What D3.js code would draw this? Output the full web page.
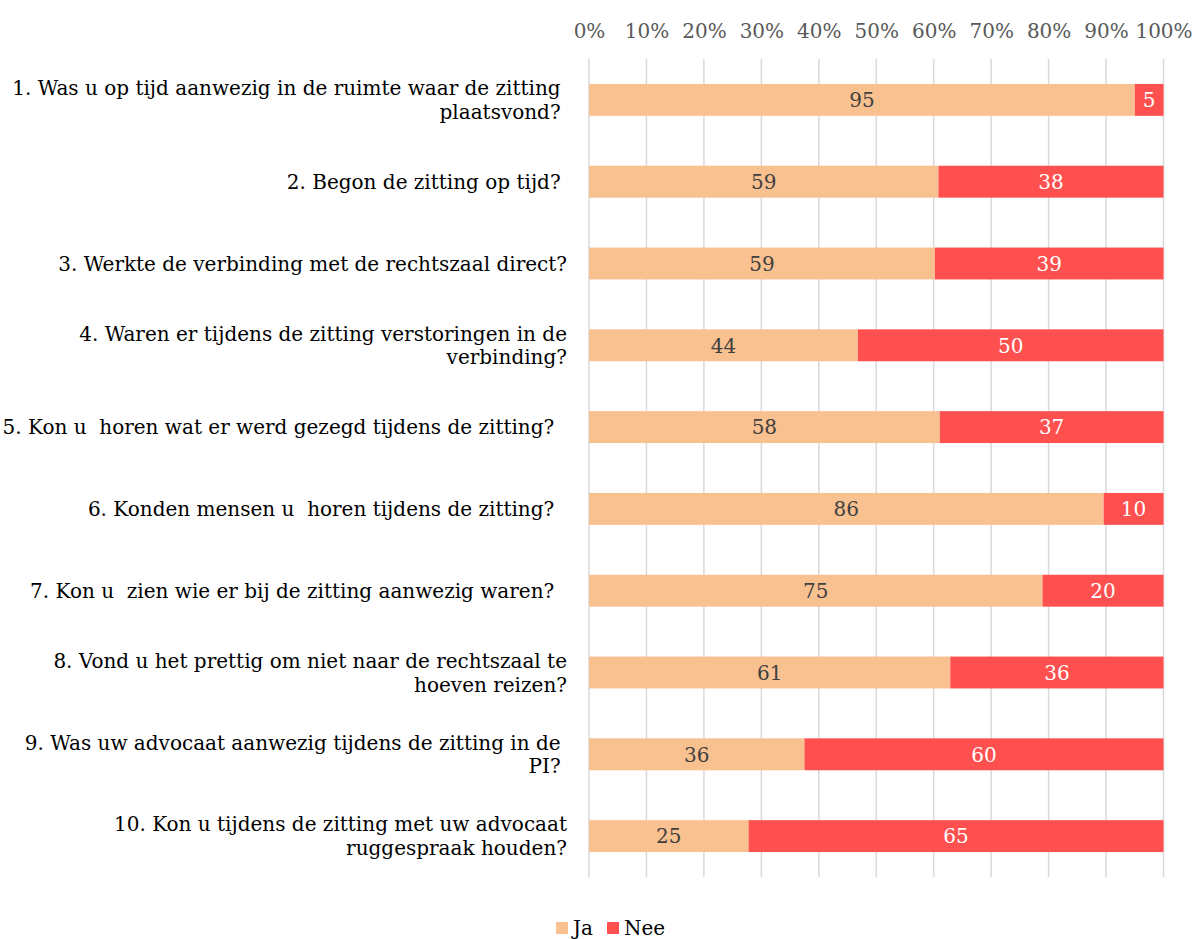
<!DOCTYPE html>
<html><head><meta charset="utf-8">
<script src="https://cdn.jsdelivr.net/npm/d3@7"></script>
<style>
body{margin:0;background:#fff}
text{font-family:"DejaVu Serif",serif;white-space:pre}
</style></head>
<body><svg id="c" width="1194" height="939"></svg>
<script>
const categories = [
  ["1. Was u op tijd aanwezig in de ruimte waar de zitting ", "plaatsvond? "],
  ["2. Begon de zitting op tijd? "],
  ["3. Werkte de verbinding met de rechtszaal direct?"],
  ["4. Waren er tijdens de zitting verstoringen in de", "verbinding?"],
  ["5. Kon u  horen wat er werd gezegd tijdens de zitting?  "],
  ["6. Konden mensen u  horen tijdens de zitting?  "],
  ["7. Kon u  zien wie er bij de zitting aanwezig waren?  "],
  ["8. Vond u het prettig om niet naar de rechtszaal te", "hoeven reizen?"],
  ["9. Was uw advocaat aanwezig tijdens de zitting in de ", "PI? "],
  ["10. Kon u tijdens de zitting met uw advocaat", "ruggespraak houden?"]
];
const jaValues  = [95, 59, 59, 44, 58, 86, 75, 61, 36, 25];
const neeValues = [5, 38, 39, 50, 37, 10, 20, 36, 60, 65];
const seriesNames = ["Ja", "Nee"];
const seriesColors = ["#F9C190", "#FF5050"];
const labelColors = ["#404040", "#FFFFFF"];
const tickValues = [0, 0.1, 0.2, 0.3, 0.4, 0.5, 0.6, 0.7, 0.8, 0.9, 1];
const tickLabels = ["0%", "10%", "20%", "30%", "40%", "50%", "60%", "70%", "80%", "90%", "100%"];

const svg = d3.select("#c");
const plotLeft = 589, plotRight = 1163.5, plotTop = 59, plotBottom = 877;
const fs = 20;

const x = d3.scaleLinear().domain([0, 1]).range([plotLeft, plotRight]);
const y = d3.scaleBand().domain(d3.range(categories.length)).range([plotTop, plotBottom])
  .paddingInner(0.61).paddingOuter(0.305);

// gridlines
svg.append("g").selectAll("line").data(tickValues).join("line")
  .attr("x1", d => x(d)).attr("x2", d => x(d))
  .attr("y1", plotTop).attr("y2", plotBottom)
  .attr("stroke", "#D9D9D9").attr("stroke-width", 1.5);

// top axis
const axis = svg.append("g").attr("transform", "translate(0,38)")
  .call(d3.axisTop(x).tickValues(tickValues).tickFormat((d, i) => tickLabels[i]).tickSize(0).tickPadding(0));
axis.select(".domain").remove();
axis.selectAll("text").attr("font-family", "DejaVu Serif").attr("font-size", fs).attr("fill", "#595959");

// stacked data
const rows = categories.map((c, i) => {
  const total = jaValues[i] + neeValues[i];
  const vals = [jaValues[i], neeValues[i]];
  let acc = 0;
  return vals.map((v, s) => {
    const seg = { i, s, v, x0: acc / total, x1: (acc + v) / total };
    acc += v;
    return seg;
  });
}).flat();

svg.append("g").selectAll("rect").data(rows).join("rect")
  .attr("x", d => x(d.x0)).attr("width", d => x(d.x1) - x(d.x0))
  .attr("y", d => y(d.i)).attr("height", y.bandwidth())
  .attr("fill", d => seriesColors[d.s]);

svg.append("g").selectAll("text").data(rows).join("text")
  .attr("x", d => (x(d.x0) + x(d.x1)) / 2)
  .attr("y", d => y(d.i) + y.bandwidth() / 2)
  .attr("dy", "0.36em").attr("text-anchor", "middle")
  .attr("font-size", fs).attr("fill", d => labelColors[d.s])
  .text(d => d.v);

// category labels
const cat = svg.append("g").selectAll("text").data(categories).join("text")
  .attr("text-anchor", "end").attr("font-size", fs).attr("fill", "#000")
  .attr("transform", (d, i) => `translate(567,${y(i) + y.bandwidth() / 2})`);
cat.selectAll("tspan").data(d => d.map((t, k) => ({ t, k, n: d.length }))).join("tspan")
  .attr("x", 0)
  .attr("y", d => (d.k - (d.n - 1) / 2) * 24)
  .attr("dy", "0.36em")
  .text(d => d.t);

// legend
const legendX = [556, 607];
const lg = svg.append("g").selectAll("g").data(seriesNames).join("g")
  .attr("transform", (d, i) => `translate(${legendX[i]},922)`);
lg.append("rect").attr("width", 12).attr("height", 12).attr("fill", (d, i) => seriesColors[i]);
lg.append("text").attr("x", 17).attr("y", 6).attr("dy", "0.36em")
  .attr("font-size", fs).attr("fill", "#000").text(d => d);
</script></body></html>
